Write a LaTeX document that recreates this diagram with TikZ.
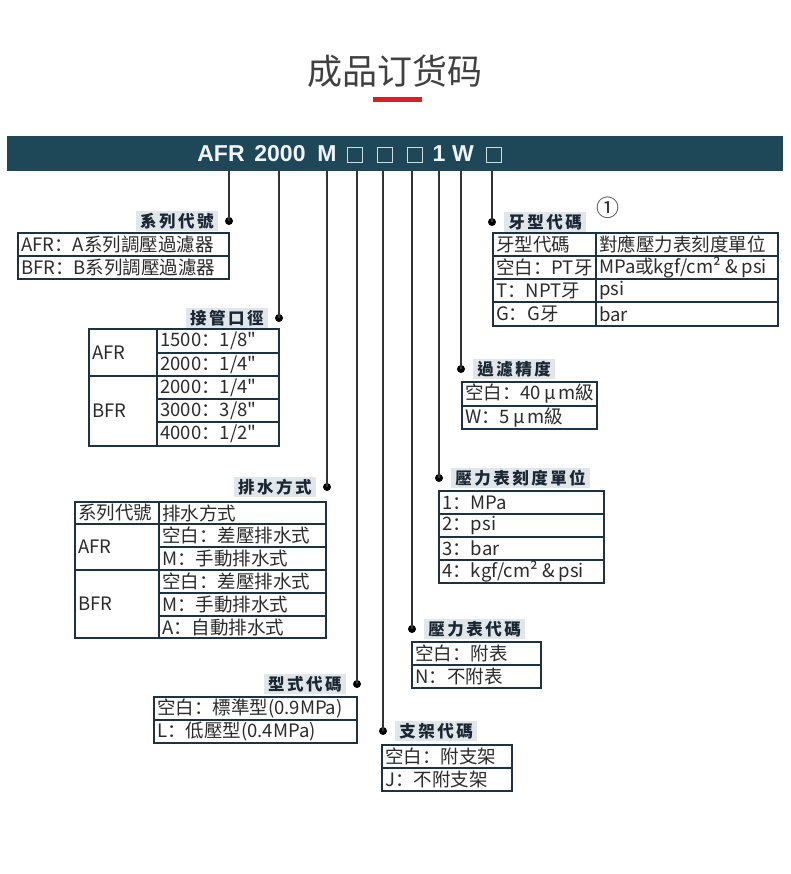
\documentclass[tikz,border=0pt]{standalone}
\usepackage{fontspec}
\usetikzlibrary{positioning,calc}

\newfontfamily\tfont{Noto Sans CJK SC}
\newfontfamily\lfont[LetterSpace=15]{Noto Sans CJK TC}
\newfontfamily\hfont{Noto Sans CJK SC}
\newfontfamily\cfont{Liberation Sans}

\definecolor{barc}{HTML}{1E4858}
\definecolor{lblc}{HTML}{E0E6E9}
\definecolor{lbltxt}{HTML}{1A2633}
\definecolor{tblc}{HTML}{1F3244}
\definecolor{txtc}{HTML}{2B2B2B}
\definecolor{linec}{HTML}{333333}
\definecolor{redc}{HTML}{D71F26}

% one table cell: name, x, y (top left), width, height, text
\newcommand{\tcell}[6]{%
  \node[cellbox, minimum width=#4, minimum height=#5] (#1) at (#2,#3) {};
  \node[celltext] (#1t) at (#1.west) {#6};
}

\begin{document}
\begin{tikzpicture}[x=1pt, y=-1pt,
    bar/.style={fill=barc, minimum width=776pt, minimum height=35pt, inner sep=0pt},
    code/.style={anchor=base, text=white!94!barc, inner sep=0pt, font=\cfont\bfseries\fontsize{23}{23}\selectfont},
    codebox/.style={draw=white!80!barc, line width=1.2pt, minimum size=15pt, inner sep=0pt},
    conn/.style={draw=linec, line width=1.2pt},
    dot/.style={circle, fill=black, minimum size=8pt, inner sep=0pt},
    lbl/.style={fill=lblc, text=lbltxt, minimum height=20pt, inner xsep=4pt, inner ysep=0pt,
      font=\lfont\bfseries\fontsize{16.5}{18}\selectfont},
    cellbox/.style={draw=tblc, line width=1.4pt, anchor=north west, inner sep=0pt, outer sep=0pt},
    celltext/.style={anchor=west, inner xsep=3pt, inner ysep=0pt, text=txtc,
      font=\tfont\fontsize{18.5}{20}\selectfont}]

  \fill[white] (0,0) rectangle (790,874);
  \useasboundingbox (0,0) rectangle (790,874);

  % title
  \node[text=txtc!90!white, font=\hfont\fontsize{35}{38}\selectfont, inner sep=0pt] (title) at (395,71) {成品订货码};
  \node[fill=redc, minimum width=49pt, minimum height=5pt, inner sep=0pt] (rule) at (397,99.5) {};

  % code bar
  \node[bar] (bar) at (395,153.5) {};
  \node[code] (cS) at (221,162) {AFR};
  \node[code] (cP) at (280,162) {2000};
  \node[code] (cD) at (327,162) {M};
  \node[codebox] (cT) at (355,155) {};
  \node[codebox] (cG) at (385,155) {};
  \node[codebox] (cA) at (415,155) {};
  \node[code] (cU) at (439,162) {1};
  \node[code] (cF) at (463,162) {W};
  \node[codebox] (cB) at (494,155) {};

  % dots and leaders
  \node[dot] (dS) at (229,221) {};
  \node[dot] (dP) at (279,318) {};
  \node[dot] (dD) at (327,487) {};
  \node[dot] (dT) at (357,684) {};
  \node[dot] (dB) at (383,731) {};
  \node[dot] (dG) at (412,629) {};
  \node[dot] (dU) at (439,478) {};
  \node[dot] (dF) at (461,369) {};
  \node[dot] (dR) at (492,222) {};
  \foreach \d in {dS,dP,dD,dT,dB,dG,dU,dF,dR}
    \draw[conn] (\d |- bar.south) -- (\d.center);

  % labels
  \node[lbl, left=7pt of dS] (lS) {系列代號};
  \node[lbl, left=7pt of dP] (lP) {接管口徑};
  \node[lbl, left=7pt of dD] (lD) {排水方式};
  \node[lbl, left=7pt of dT] (lT) {型式代碼};
  \node[lbl, right=8pt of dB] (lB) {支架代碼};
  \node[lbl, right=8pt of dG] (lG) {壓力表代碼};
  \node[lbl, right=8pt of dU] (lU) {壓力表刻度單位};
  \node[lbl, right=8pt of dF] (lF) {過濾精度};
  \node[lbl, right=8pt of dR] (lR) {牙型代碼};
  \node[text=txtc, font=\tfont\fontsize{23}{24}\selectfont, inner sep=0pt] (note) at (608,208) {①};

  % series
  \tcell{s1}{18}{233}{211}{23}{AFR：A系列調壓過濾器}
  \tcell{s2}{18}{256}{211}{23}{BFR：B系列調壓過濾器}

  % port size
  \tcell{p1}{89}{329}{68}{47}{AFR}
  \tcell{p2}{89}{376}{68}{70}{BFR}
  \tcell{p3}{157}{329}{122}{24}{1500：1/8"}
  \tcell{p4}{157}{353}{122}{23}{2000：1/4"}
  \tcell{p5}{157}{376}{122}{23}{2000：1/4"}
  \tcell{p6}{157}{399}{122}{23}{3000：3/8"}
  \tcell{p7}{157}{422}{122}{24}{4000：1/2"}

  % drain
  \tcell{r1}{75}{502}{84}{22}{系列代號}
  \tcell{r2}{159}{502}{167}{22}{排水方式}
  \tcell{r3}{75}{524}{84}{46}{AFR}
  \tcell{r4}{159}{524}{167}{23}{空白：差壓排水式}
  \tcell{r5}{159}{547}{167}{23}{M：手動排水式}
  \tcell{r6}{75}{570}{84}{68}{BFR}
  \tcell{r7}{159}{570}{167}{23}{空白：差壓排水式}
  \tcell{r8}{159}{593}{167}{23}{M：手動排水式}
  \tcell{r9}{159}{616}{167}{22}{A：自動排水式}

  % type
  \tcell{y1}{154}{697}{203}{23}{空白：標準型(0.9MPa)}
  \tcell{y2}{154}{720}{203}{23}{L：低壓型(0.4MPa)}

  % bracket
  \tcell{b1}{382}{745}{130}{23}{空白：附支架}
  \tcell{b2}{382}{768}{130}{23}{J：不附支架}

  % gauge
  \tcell{g1}{412}{642}{129}{23}{空白：附表}
  \tcell{g2}{412}{665}{129}{23}{N：不附表}

  % gauge unit
  \tcell{u1}{439}{491}{165}{23}{1：MPa}
  \tcell{u2}{439}{514}{165}{23}{2：psi}
  \tcell{u3}{439}{537}{165}{23}{3：bar}
  \tcell{u4}{439}{560}{165}{23}{4：kgf/cm² \& psi}

  % filtration
  \tcell{f1}{462}{382}{135}{24}{空白：40\kern3pt μ\kern3pt m級}
  \tcell{f2}{462}{406}{135}{23}{W：5\kern3pt μ\kern3pt m級}

  % thread
  \tcell{t1}{493}{233}{103}{23}{牙型代碼}
  \tcell{t2}{596}{233}{182}{23}{對應壓力表刻度單位}
  \tcell{t3}{493}{256}{103}{23}{空白：PT牙}
  \tcell{t4}{596}{256}{182}{23}{MPa或kgf/cm² \& psi}
  \tcell{t5}{493}{279}{103}{23}{T：NPT牙}
  \tcell{t6}{596}{279}{182}{23}{psi}
  \tcell{t7}{493}{302}{103}{24}{G：G牙}
  \tcell{t8}{596}{302}{182}{24}{bar}
\end{tikzpicture}
\end{document}
